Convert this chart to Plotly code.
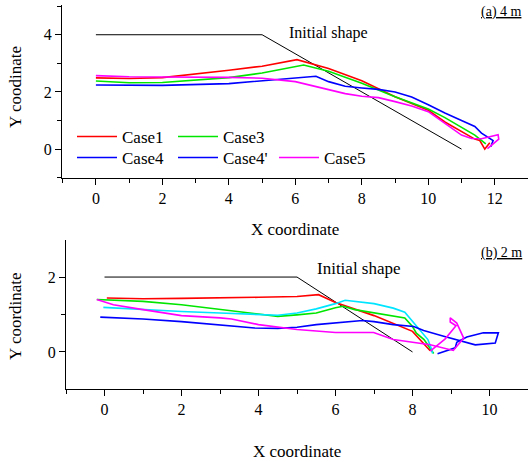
import plotly.graph_objects as go

FONT = "Liberation Serif"

# ---------------- (a) 4 m ----------------
init_a_x = [0, 5, 11]
init_a_y = [4, 4, 0]

a_case1_x = [0, 1, 2, 3, 4, 5, 6.05, 7, 8, 9, 10, 10.5, 11, 11.4, 11.55, 11.7, 11.85]
a_case1_y = [2.49, 2.47, 2.5, 2.62, 2.76, 2.9, 3.13, 2.82, 2.39, 1.83, 1.36, 0.95, 0.6, 0.35, 0.3, 0.0, 0.22]

a_case3_x = [0, 1, 2, 3, 4, 5, 6, 6.25, 7, 8, 9, 10, 10.5, 11, 11.4, 11.73]
a_case3_y = [2.38, 2.32, 2.33, 2.42, 2.5, 2.66, 2.87, 2.94, 2.72, 2.3, 1.83, 1.4, 1.1, 0.76, 0.49, 0.18]

a_case4_x = [0, 2, 4, 5, 6, 6.62, 7, 7.5, 8, 8.5, 9, 9.5, 10, 10.5, 11, 11.4, 11.6, 11.8, 11.95, 11.88]
a_case4_y = [2.24, 2.23, 2.29, 2.38, 2.48, 2.55, 2.36, 2.2, 2.14, 2.09, 2.0, 1.82, 1.55, 1.26, 1.0, 0.79, 0.56, 0.42, 0.3, 0.08]

a_case5_x = [0, 1, 2, 3, 4, 5, 6, 7, 7.5, 8, 8.5, 9, 9.5, 10, 10.3, 10.6, 11, 11.3, 11.6, 12.1, 12.12, 11.78]
a_case5_y = [2.57, 2.53, 2.52, 2.52, 2.51, 2.48, 2.36, 2.08, 1.94, 1.85, 1.8, 1.66, 1.51, 1.31, 1.07, 0.84, 0.49, 0.37, 0.36, 0.5, 0.35, 0.02]

# ---------------- (b) 2 m ----------------
init_b_x = [0, 5, 8]
init_b_y = [2, 2, 0]

b_case1_x = [0.06, 1, 2, 3, 4, 5, 5.56, 6, 7, 8, 8.46]
b_case1_y = [1.44, 1.42, 1.43, 1.44, 1.46, 1.48, 1.53, 1.32, 0.97, 0.55, 0.03]

b_case3_x = [-0.2, 1, 2, 3, 4, 4.5, 5, 5.5, 6, 6.2, 6.5, 7, 7.5, 7.8, 8, 8.1, 8.3, 8.5, 8.55]
b_case3_y = [1.4, 1.35, 1.26, 1.13, 1.0, 0.95, 0.99, 1.04, 1.18, 1.22, 1.13, 1.04, 0.97, 0.91, 0.68, 0.5, 0.33, 0.04, -0.04]

b_case4_x = [-0.11, 1, 2, 3, 3.9, 4.5, 5, 5.5, 6, 6.7, 7, 7.5, 8.03, 8.29, 8.81, 9.24, 9.63, 10.15, 10.23, 9.84, 9.41, 9.15, 9.11, 8.65]
b_case4_y = [0.93, 0.88, 0.81, 0.73, 0.64, 0.63, 0.66, 0.73, 0.78, 0.84, 0.81, 0.73, 0.68, 0.57, 0.42, 0.3, 0.19, 0.24, 0.51, 0.51, 0.4, 0.26, 0.11, -0.05]

b_case4p_x = [-0.03, 1, 2, 3, 4, 4.5, 5, 5.5, 6, 6.25, 7, 7.5, 7.8, 8, 8.2, 8.4, 8.5, 8.52]
b_case4p_y = [1.19, 1.13, 1.08, 1.04, 1.0, 0.98, 1.04, 1.15, 1.29, 1.38, 1.29, 1.17, 1.06, 0.82, 0.6, 0.33, 0.06, -0.04]

b_case5_x = [-0.2, 0.23, 1, 2, 3, 3.3, 4, 5, 6, 6.5, 6.99, 7.5, 8.46, 9.06, 9.33, 9.15, 8.98, 8.98, 9.13, 8.85, 8.46]
b_case5_y = [1.4, 1.26, 1.13, 0.97, 0.91, 0.88, 0.73, 0.6, 0.52, 0.51, 0.52, 0.33, 0.19, 0.04, 0.37, 0.77, 0.91, 0.8, 0.7, 0.35, 0.02]

RED, GREEN, BLUE, MAG, CYAN = "#ff0000", "#00e600", "#0000ff", "#ff00ff", "#00e5ff"
LW = 1.6

fig = go.Figure()

def line(x, y, color, name, xa, ya, legend=None, show=False, width=LW):
    fig.add_trace(go.Scatter(x=x, y=y, mode="lines", name=name,
                             line=dict(color=color, width=width),
                             xaxis=xa, yaxis=ya, showlegend=show,
                             legend=legend if legend else "legend"))

# panel a
line(init_a_x, init_a_y, "black", "Initial shape", "x", "y", width=1)
line(a_case1_x, a_case1_y, RED, "Case1", "x", "y", "legend", True)
line(a_case3_x, a_case3_y, GREEN, "Case3", "x", "y", "legend", True)
line(a_case4_x, a_case4_y, BLUE, "Case4", "x", "y", "legend2", True)
line([None], [None], BLUE, "Case4'", "x", "y", "legend2", True)
line(a_case5_x, a_case5_y, MAG, "Case5", "x", "y", "legend2", True)

# panel b
line(init_b_x, init_b_y, "black", "Initial shape", "x2", "y2", width=1)
line(b_case1_x, b_case1_y, RED, "Case1", "x2", "y2")
line(b_case3_x, b_case3_y, GREEN, "Case3", "x2", "y2")
line(b_case4p_x, b_case4p_y, CYAN, "Case4'", "x2", "y2")
line(b_case4_x, b_case4_y, BLUE, "Case4", "x2", "y2")
line(b_case5_x, b_case5_y, MAG, "Case5", "x2", "y2")

W, H = 528, 462
tickfont = dict(family=FONT, size=16, color="black")
titlefont = dict(family=FONT, size=17, color="black")

def axis_common(dom, anchor, rng):
    return dict(domain=dom, anchor=anchor, range=rng, dtick=2, tick0=0,
                showline=True, linecolor="black", linewidth=1.2,
                ticks="outside", ticklen=6, tickcolor="black", tickwidth=1.2,
                minor=dict(ticks="outside", ticklen=4, dtick=1, tick0=0, tickcolor="black"),
                showgrid=False, zeroline=False, tickfont=tickfont, automargin=False)

def py(px):
    return 1 - px / H

def px_(x):
    return x / W

legend_common = dict(orientation="h", xanchor="left", yanchor="middle",
                     entrywidth=46, entrywidthmode="pixels", itemwidth=40,
                     font=dict(family=FONT, size=17, color="black"),
                     bgcolor="rgba(0,0,0,0)")

fig.update_layout(
    width=W, height=H,
    margin=dict(l=0, r=0, t=0, b=0, autoexpand=False),
    paper_bgcolor="white", plot_bgcolor="white",
    xaxis=axis_common([px_(62), 1], "y", [-1.02, 13.0]),
    yaxis=axis_common([py(178), py(5)], "x", [-1.01, 5.04]),
    xaxis2=axis_common([px_(66), 1], "y2", [-1.0, 11.0]),
    yaxis2=axis_common([py(389), py(240)], "x2", [-0.99, 2.99]),
    legend=dict(legend_common, x=px_(72), y=py(137)),
    legend2=dict(legend_common, x=px_(72), y=py(158)),
    annotations=[
        dict(text="<u>(a) 4 m</u>", xref="paper", yref="paper", x=px_(524), y=py(12),
             xanchor="right", yanchor="middle", showarrow=False,
             font=dict(family=FONT, size=14, color="black")),
        dict(text="<u>(b) 2 m</u>", xref="paper", yref="paper", x=px_(524), y=py(253),
             xanchor="right", yanchor="middle", showarrow=False,
             font=dict(family=FONT, size=14, color="black")),
        dict(text="Initial shape", xref="x", yref="paper", x=7.0, y=py(33),
             xanchor="center", yanchor="middle", showarrow=False,
             font=dict(family=FONT, size=16, color="black")),
        dict(text="Initial shape", xref="x2", yref="paper", x=6.6, y=py(268),
             xanchor="center", yanchor="middle", showarrow=False,
             font=dict(family=FONT, size=17, color="black")),
        # axis titles
        dict(text="X coordinate", xref="x", yref="paper", x=6.0, y=py(229),
             xanchor="center", yanchor="middle", showarrow=False, font=titlefont),
        dict(text="X coordinate", xref="x2", yref="paper", x=5.0, y=py(451),
             xanchor="center", yanchor="middle", showarrow=False, font=titlefont),
        dict(text="Y coodinate", xref="paper", yref="paper", x=px_(15), y=py(87),
             xanchor="center", yanchor="middle", textangle=-90, showarrow=False, font=titlefont),
        dict(text="Y coordinate", xref="paper", yref="paper", x=px_(15), y=py(316),
             xanchor="center", yanchor="middle", textangle=-90, showarrow=False, font=titlefont),
    ],
)

fig.write_html("out.html", config={"displayModeBar": False},
               post_script="document.body.style.margin='0';")
